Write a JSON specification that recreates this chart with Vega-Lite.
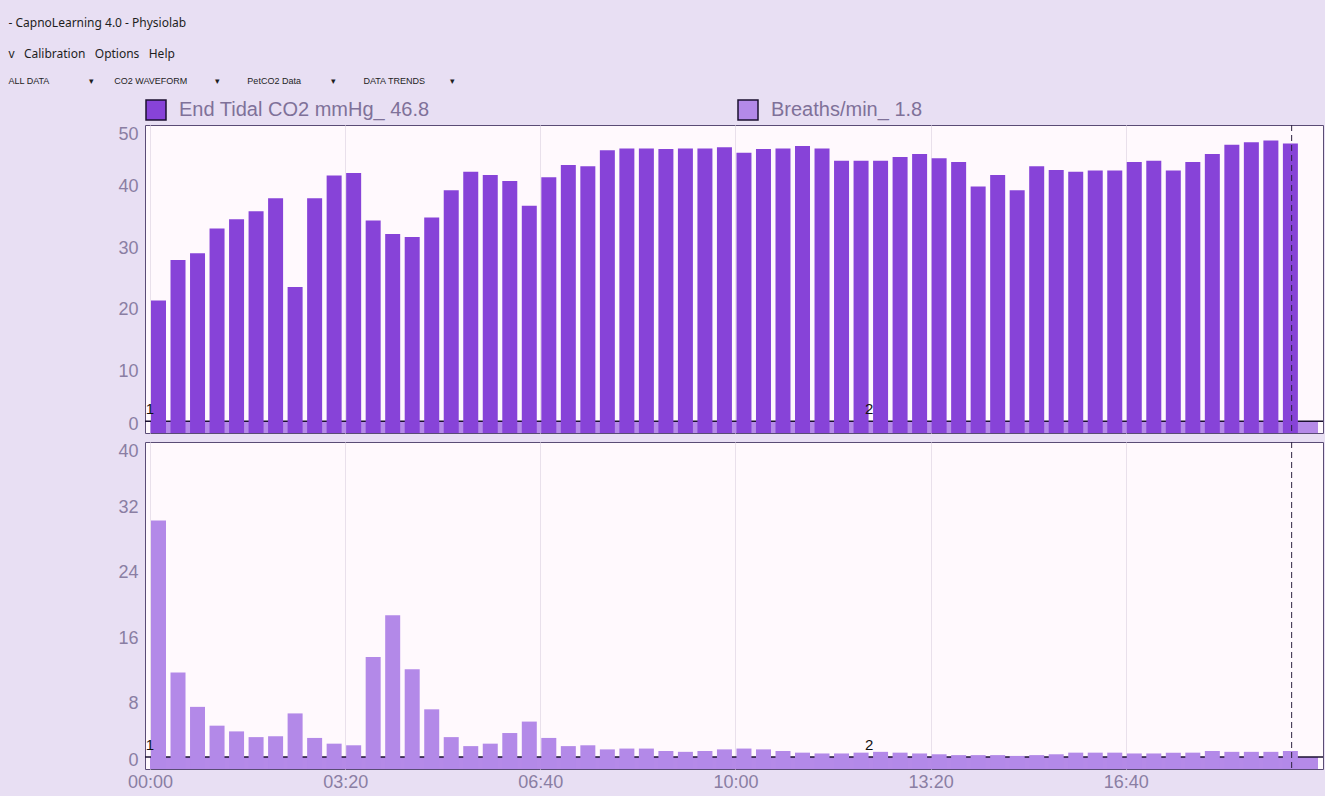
{
  "$schema": "https://vega.github.io/schema/vega-lite/v6.json",
  "background": "#E8DFF3",
  "padding": {"left": 0, "right": 3, "top": 17, "bottom": 4},
  "title": {
    "text": ["- CapnoLearning 4.0 - Physiolab", "v\u00a0\u00a0\u00a0Calibration\u00a0\u00a0\u00a0Options\u00a0\u00a0\u00a0Help"],
    "subtitle": "\u00a0\u00a0\u00a0\u00a0\u00a0ALL DATA\u00a0\u00a0\u00a0\u00a0\u00a0\u00a0\u00a0\u00a0\u00a0\u00a0\u00a0\u00a0\u00a0\u00a0\u00a0\u00a0\u25BE\u00a0\u00a0\u00a0\u00a0\u00a0\u00a0\u00a0\u00a0CO2 WAVEFORM\u00a0\u00a0\u00a0\u00a0\u00a0\u00a0\u00a0\u00a0\u00a0\u00a0\u00a0\u25BE\u00a0\u00a0\u00a0\u00a0\u00a0\u00a0\u00a0\u00a0\u00a0\u00a0\u00a0PetCO2 Data\u00a0\u00a0\u00a0\u00a0\u00a0\u00a0\u00a0\u00a0\u00a0\u00a0\u00a0\u00a0\u25BE\u00a0\u00a0\u00a0\u00a0\u00a0\u00a0\u00a0\u00a0\u00a0\u00a0\u00a0DATA TRENDS\u00a0\u00a0\u00a0\u00a0\u00a0\u00a0\u00a0\u00a0\u00a0\u00a0\u25BE",
    "anchor": "start",
    "frame": "bounds",
    "dx": 8,
    "font": "Noto Sans",
    "fontSize": 12,
    "fontWeight": "normal",
    "lineHeight": 31,
    "color": "#1E1E1E",
    "subtitleFont": "Liberation Sans",
    "subtitleFontSize": 9,
    "subtitleColor": "#1E1E1E",
    "subtitlePadding": 16,
    "offset": 12
  },
  "datasets": {
    "trend": [
      {"t": 0, "s": "etco2", "v": 21.5}, {"t": 20, "s": "etco2", "v": 28.1}, {"t": 40, "s": "etco2", "v": 29.2},
      {"t": 60, "s": "etco2", "v": 33.2}, {"t": 80, "s": "etco2", "v": 34.7}, {"t": 100, "s": "etco2", "v": 36.0},
      {"t": 120, "s": "etco2", "v": 38.1}, {"t": 140, "s": "etco2", "v": 23.7}, {"t": 160, "s": "etco2", "v": 38.1},
      {"t": 180, "s": "etco2", "v": 41.8}, {"t": 200, "s": "etco2", "v": 42.2}, {"t": 220, "s": "etco2", "v": 34.5},
      {"t": 240, "s": "etco2", "v": 32.3}, {"t": 260, "s": "etco2", "v": 31.8}, {"t": 280, "s": "etco2", "v": 35.0},
      {"t": 300, "s": "etco2", "v": 39.4}, {"t": 320, "s": "etco2", "v": 42.4}, {"t": 340, "s": "etco2", "v": 41.9},
      {"t": 360, "s": "etco2", "v": 40.9}, {"t": 380, "s": "etco2", "v": 36.9}, {"t": 400, "s": "etco2", "v": 41.5},
      {"t": 420, "s": "etco2", "v": 43.5}, {"t": 440, "s": "etco2", "v": 43.3}, {"t": 460, "s": "etco2", "v": 45.9},
      {"t": 480, "s": "etco2", "v": 46.2}, {"t": 500, "s": "etco2", "v": 46.2}, {"t": 520, "s": "etco2", "v": 46.1},
      {"t": 540, "s": "etco2", "v": 46.2}, {"t": 560, "s": "etco2", "v": 46.2}, {"t": 580, "s": "etco2", "v": 46.4},
      {"t": 600, "s": "etco2", "v": 45.5}, {"t": 620, "s": "etco2", "v": 46.1}, {"t": 640, "s": "etco2", "v": 46.2},
      {"t": 660, "s": "etco2", "v": 46.6}, {"t": 680, "s": "etco2", "v": 46.2}, {"t": 700, "s": "etco2", "v": 44.2},
      {"t": 720, "s": "etco2", "v": 44.2}, {"t": 740, "s": "etco2", "v": 44.2}, {"t": 760, "s": "etco2", "v": 44.8},
      {"t": 780, "s": "etco2", "v": 45.3}, {"t": 800, "s": "etco2", "v": 44.6}, {"t": 820, "s": "etco2", "v": 44.0},
      {"t": 840, "s": "etco2", "v": 40.0}, {"t": 860, "s": "etco2", "v": 41.9}, {"t": 880, "s": "etco2", "v": 39.4},
      {"t": 900, "s": "etco2", "v": 43.3}, {"t": 920, "s": "etco2", "v": 42.7}, {"t": 940, "s": "etco2", "v": 42.4},
      {"t": 960, "s": "etco2", "v": 42.6}, {"t": 980, "s": "etco2", "v": 42.6}, {"t": 1000, "s": "etco2", "v": 44.0},
      {"t": 1020, "s": "etco2", "v": 44.2}, {"t": 1040, "s": "etco2", "v": 42.6}, {"t": 1060, "s": "etco2", "v": 44.0},
      {"t": 1080, "s": "etco2", "v": 45.3}, {"t": 1100, "s": "etco2", "v": 46.8}, {"t": 1120, "s": "etco2", "v": 47.2},
      {"t": 1140, "s": "etco2", "v": 47.5}, {"t": 1160, "s": "etco2", "v": 47.0},
      {"t": 0, "s": "bpm", "v": 30.4}, {"t": 20, "s": "bpm", "v": 11.8}, {"t": 40, "s": "bpm", "v": 7.6},
      {"t": 60, "s": "bpm", "v": 5.3}, {"t": 80, "s": "bpm", "v": 4.6}, {"t": 100, "s": "bpm", "v": 3.9},
      {"t": 120, "s": "bpm", "v": 4.0}, {"t": 140, "s": "bpm", "v": 6.8}, {"t": 160, "s": "bpm", "v": 3.8},
      {"t": 180, "s": "bpm", "v": 3.1}, {"t": 200, "s": "bpm", "v": 2.9}, {"t": 220, "s": "bpm", "v": 13.7},
      {"t": 240, "s": "bpm", "v": 18.8}, {"t": 260, "s": "bpm", "v": 12.2}, {"t": 280, "s": "bpm", "v": 7.3},
      {"t": 300, "s": "bpm", "v": 3.9}, {"t": 320, "s": "bpm", "v": 2.8}, {"t": 340, "s": "bpm", "v": 3.1},
      {"t": 360, "s": "bpm", "v": 4.4}, {"t": 380, "s": "bpm", "v": 5.8}, {"t": 400, "s": "bpm", "v": 3.8},
      {"t": 420, "s": "bpm", "v": 2.8}, {"t": 440, "s": "bpm", "v": 2.9}, {"t": 460, "s": "bpm", "v": 2.4},
      {"t": 480, "s": "bpm", "v": 2.5}, {"t": 500, "s": "bpm", "v": 2.5}, {"t": 520, "s": "bpm", "v": 2.2},
      {"t": 540, "s": "bpm", "v": 2.1}, {"t": 560, "s": "bpm", "v": 2.2}, {"t": 580, "s": "bpm", "v": 2.4},
      {"t": 600, "s": "bpm", "v": 2.5}, {"t": 620, "s": "bpm", "v": 2.4}, {"t": 640, "s": "bpm", "v": 2.2},
      {"t": 660, "s": "bpm", "v": 2.0}, {"t": 680, "s": "bpm", "v": 1.9}, {"t": 700, "s": "bpm", "v": 1.9},
      {"t": 720, "s": "bpm", "v": 2.0}, {"t": 740, "s": "bpm", "v": 2.1}, {"t": 760, "s": "bpm", "v": 2.0},
      {"t": 780, "s": "bpm", "v": 1.9}, {"t": 800, "s": "bpm", "v": 1.8}, {"t": 820, "s": "bpm", "v": 1.7},
      {"t": 840, "s": "bpm", "v": 1.7}, {"t": 860, "s": "bpm", "v": 1.7}, {"t": 880, "s": "bpm", "v": 1.6},
      {"t": 900, "s": "bpm", "v": 1.7}, {"t": 920, "s": "bpm", "v": 1.8}, {"t": 940, "s": "bpm", "v": 2.0},
      {"t": 960, "s": "bpm", "v": 2.0}, {"t": 980, "s": "bpm", "v": 2.0}, {"t": 1000, "s": "bpm", "v": 1.9},
      {"t": 1020, "s": "bpm", "v": 1.9}, {"t": 1040, "s": "bpm", "v": 2.0}, {"t": 1060, "s": "bpm", "v": 2.0},
      {"t": 1080, "s": "bpm", "v": 2.2}, {"t": 1100, "s": "bpm", "v": 2.1}, {"t": 1120, "s": "bpm", "v": 2.1},
      {"t": 1140, "s": "bpm", "v": 2.1}, {"t": 1160, "s": "bpm", "v": 2.2}
    ],
    "events": [{"t": 0, "label": "1"}, {"t": 737, "label": "2"}],
    "cursor": [{"t": 1170}],
    "one": [{}]
  },
  "data": {"name": "trend"},
  "spacing": 7,
  "resolve": {"scale": {"y": "independent", "x": "shared", "color": "shared"}, "legend": {"color": "shared"}},
  "config": {
    "view": {"fill": "#FFF9FD", "stroke": "#5A4C75", "strokeWidth": 1},
    "axis": {
      "labelFont": "Liberation Sans",
      "labelFontSize": 18,
      "labelColor": "#8A7EA3",
      "gridColor": "#E9E0EB",
      "gridWidth": 1,
      "domain": false,
      "ticks": false,
      "title": null
    },
    "legend": {
      "orient": "top",
      "direction": "horizontal",
      "title": null,
      "symbolType": "square",
      "symbolSize": 400,
      "symbolStrokeColor": "#1B1030",
      "symbolStrokeWidth": 1.5,
      "symbolOpacity": 1,
      "labelFont": "Liberation Sans",
      "labelFontSize": 20,
      "labelColor": "#7F7199",
      "labelOffset": 12,
      "labelLimit": 500,
      "columnPadding": 305,
      "offset": 1
    }
  },
  "vconcat": [
    {
      "width": 1178,
      "height": 308,
      "layer": [
        {
          "data": {"name": "one"},
          "mark": {"type": "rect", "color": "#B58AE8"},
          "encoding": {
            "x": {"datum": 0, "type": "quantitative"},
            "x2": {"datum": 1197},
            "y": {"datum": 0, "type": "quantitative"},
            "y2": {"datum": 1.9}
          }
        },
        {
          "data": {"name": "one"},
          "mark": {"type": "rule", "color": "#1B1030", "strokeWidth": 1.5},
          "encoding": {"y": {"datum": 1.9, "type": "quantitative"}}
        },
        {
          "transform": [{"filter": "datum.s === 'etco2'"}],
          "mark": {"type": "bar", "size": 15, "xOffset": 8.5},
          "encoding": {
            "x": {
              "field": "t", "type": "quantitative",
              "scale": {"domain": [0, 1197], "nice": false, "zero": false},
              "axis": {"values": [0, 200, 400, 600, 800, 1000], "labels": false, "grid": true}
            },
            "y": {
              "field": "v", "type": "quantitative",
              "scale": {"domain": [0, 50], "nice": false},
              "axis": {
                "values": [0, 5, 10, 15, 20, 25, 30, 35, 40, 45, 50],
                "labelExpr": "datum.value % 10 === 0 ? datum.label : ''",
                "labelFlush": true,
                "labelPadding": 7,
                "minExtent": 144,
                "maxExtent": 144
              }
            },
            "color": {
              "field": "s", "type": "nominal",
              "scale": {"domain": ["etco2", "bpm"], "range": ["#8743D8", "#B389E8"]},
              "legend": {"labelExpr": "datum.value === 'etco2' ? 'End Tidal CO2 mmHg_ 46.8' : 'Breaths/min_ 1.8'"}
            }
          }
        },
        {
          "data": {"name": "cursor"},
          "mark": {"type": "rule", "color": "#2E2440", "strokeWidth": 1, "strokeDash": [6, 4]},
          "encoding": {"x": {"field": "t", "type": "quantitative"}}
        },
        {
          "data": {"name": "events"},
          "mark": {"type": "text", "font": "Liberation Sans", "fontSize": 15, "color": "#111111", "baseline": "bottom", "dy": -4},
          "encoding": {
            "x": {"field": "t", "type": "quantitative"},
            "y": {"datum": 1.9, "type": "quantitative"},
            "text": {"field": "label"}
          }
        }
      ]
    },
    {
      "width": 1178,
      "height": 327,
      "layer": [
        {
          "data": {"name": "one"},
          "mark": {"type": "rect", "color": "#B58AE8"},
          "encoding": {
            "x": {"datum": 0, "type": "quantitative"},
            "x2": {"datum": 1197},
            "y": {"datum": 0, "type": "quantitative"},
            "y2": {"datum": 1.47}
          }
        },
        {
          "data": {"name": "one"},
          "mark": {"type": "rule", "color": "#1B1030", "strokeWidth": 1.5},
          "encoding": {"y": {"datum": 1.47, "type": "quantitative"}}
        },
        {
          "transform": [{"filter": "datum.s === 'bpm'"}],
          "mark": {"type": "bar", "size": 15, "xOffset": 8.5},
          "encoding": {
            "x": {
              "field": "t", "type": "quantitative",
              "scale": {"domain": [0, 1197], "nice": false, "zero": false},
              "axis": {
                "values": [0, 200, 400, 600, 800, 1000],
                "grid": true,
                "labelFlush": true,
                "labelPadding": 4,
                "labelExpr": "pad('' + floor(datum.value / 60), 2, '0', 'left') + ':' + pad('' + (datum.value % 60), 2, '0', 'left')"
              }
            },
            "y": {
              "field": "v", "type": "quantitative",
              "scale": {"domain": [0, 40], "nice": false},
              "axis": {
                "values": [0, 4, 8, 12, 16, 20, 24, 28, 32, 36, 40],
                "labelExpr": "datum.value % 8 === 0 ? datum.label : ''",
                "labelFlush": true,
                "labelPadding": 7,
                "minExtent": 144,
                "maxExtent": 144
              }
            },
            "color": {
              "field": "s", "type": "nominal",
              "scale": {"domain": ["etco2", "bpm"], "range": ["#8743D8", "#B389E8"]},
              "legend": {"labelExpr": "datum.value === 'etco2' ? 'End Tidal CO2 mmHg_ 46.8' : 'Breaths/min_ 1.8'"}
            }
          }
        },
        {
          "data": {"name": "cursor"},
          "mark": {"type": "rule", "color": "#2E2440", "strokeWidth": 1, "strokeDash": [6, 4]},
          "encoding": {"x": {"field": "t", "type": "quantitative"}}
        },
        {
          "data": {"name": "events"},
          "mark": {"type": "text", "font": "Liberation Sans", "fontSize": 15, "color": "#111111", "baseline": "bottom", "dy": -4},
          "encoding": {
            "x": {"field": "t", "type": "quantitative"},
            "y": {"datum": 1.47, "type": "quantitative"},
            "text": {"field": "label"}
          }
        }
      ]
    }
  ]
}
